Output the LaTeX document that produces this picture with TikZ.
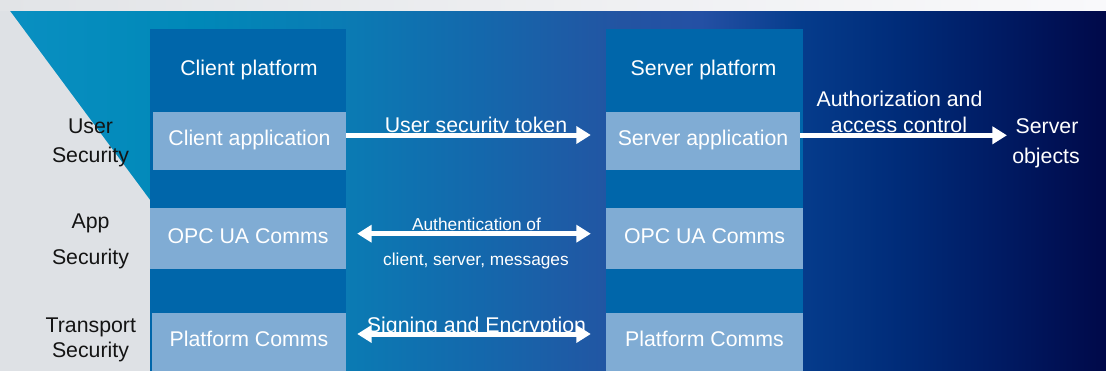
\documentclass[tikz,border=0pt]{standalone}
\usepackage{fontspec}
\setmainfont{Liberation Sans}
\usetikzlibrary{arrows.meta}
\definecolor{b0}{HTML}{0A90C2}
\definecolor{b1}{HTML}{0088B8}
\definecolor{b2}{HTML}{0A7CB4}
\definecolor{b3}{HTML}{1468AC}
\definecolor{b4}{HTML}{2354A2}
\definecolor{b5}{HTML}{2450A4}
\definecolor{b6}{HTML}{053C8C}
\definecolor{b7}{HTML}{002B78}
\definecolor{b8}{HTML}{001A62}
\definecolor{b9}{HTML}{000848}
\definecolor{colblue}{HTML}{0066AA}
\definecolor{lightbox}{HTML}{80ACD4}
\definecolor{grayL}{HTML}{E2E4E7}
\definecolor{grayR}{HTML}{F9F9FB}
\definecolor{sidegray}{HTML}{DEE1E5}
\pgfdeclarehorizontalshading{bgblue}{100bp}{color(0bp)=(b0); color(25bp)=(b0); color(34.04bp)=(b1); color(40.37bp)=(b2); color(46.70bp)=(b3); color(53.03bp)=(b4); color(56.65bp)=(b5); color(61.17bp)=(b6); color(65.69bp)=(b7); color(70.21bp)=(b8); color(75bp)=(b9); color(100bp)=(b9)}
\newcommand{\bigfont}{\fontsize{21.3}{25}\selectfont}
\newcommand{\smallfont}{\fontsize{17.3}{20}\selectfont}
\tikzset{
  box/.style={fill=lightbox, text=white, inner sep=0pt, font=\bigfont, text height=15.3pt},
  wlab/.style={text=white, inner sep=0pt, anchor=base, font=\bigfont},
  slab/.style={text=white, inner sep=0pt, anchor=base, font=\smallfont},
  klab/.style={text=black!92, inner sep=0pt, anchor=base, font=\bigfont},
  arr/.style={white, line width=5pt, -{Triangle[length=14.5pt,width=17pt]}},
  darr/.style={white, line width=5pt, {Triangle[length=14.5pt,width=17pt]}-{Triangle[length=14.5pt,width=17pt]}}
}
\begin{document}
\begin{tikzpicture}[x=1pt,y=-1pt]
\useasboundingbox (0,0) rectangle (1106,370);
% background (bleeding past the page edges)
\shade[left color=grayL, right color=grayR] (-4,-4) rectangle (1110,11);
\shade[shading=bgblue] (-4,11) rectangle (1110,376);
\fill[sidegray] (-4,11) -- (10,11) -- (150,200) -- (150,376) -- (-4,376) -- cycle;
% platform columns
\fill[colblue] (150,29) rectangle (346,376);
\fill[colblue] (606,29) rectangle (803,376);
\node[wlab] (cplat) at (249,75.3) {Client platform};
\node[wlab] (splat) at (703.5,75.3) {Server platform};
% boxes
\node[box, minimum width=193pt, minimum height=58pt, text depth=6.7pt] (capp) at (249.5,141) {Client application};
\node[box, minimum width=196pt, minimum height=61pt, text depth=5.3pt] (copc) at (248,238.5) {OPC UA Comms};
\node[box, minimum width=194pt, minimum height=63pt, text depth=11.1pt] (cplc) at (249,344.5) {Platform Comms};
\node[box, minimum width=194pt, minimum height=58pt, text depth=6.7pt] (sapp) at (703,141) {Server application};
\node[box, minimum width=197pt, minimum height=61pt, text depth=5.3pt] (sopc) at (704.5,238.5) {OPC UA Comms};
\node[box, minimum width=197pt, minimum height=63pt, text depth=11.1pt] (splc) at (704.5,344.5) {Platform Comms};
% left labels
\node[klab] (us1) at (90.5,133.3) {User};
\node[klab] (us2) at (90.5,162.3) {Security};
\node[klab] (as1) at (90.5,228) {App};
\node[klab] (as2) at (90.5,264.5) {Security};
\node[klab] (ts1) at (90.8,332) {Transport};
\node[klab] (ts2) at (90.5,357.3) {Security};
% right labels
\node[wlab] (so1) at (1047,133.6) {Server};
\node[wlab] (so2) at (1046,163.5) {objects};
% arrows
\draw[arr, shorten >=15pt] ([yshift=6pt]capp.east) -- ([yshift=6pt]sapp.west);
\draw[darr, shorten <=11pt, shorten >=15pt] ([yshift=4.8pt]copc.east) -- ([yshift=4.8pt]sopc.west);
\draw[darr, shorten <=11pt, shorten >=15pt] ([yshift=10.5pt]cplc.east) -- ([yshift=10.5pt]splc.west);
\draw[arr, shorten >=8.5pt] ([yshift=5.7pt]sapp.east) -- ([yshift=5.7pt]sapp.east -| so1.west);
% arrow labels
\node[wlab] (tok) at (476,132.7) {User security token};
\node[slab] (au1) at (476.5,230.7) {Authentication of};
\node[slab] (au2) at (476,265) {client, server, messages};
\node[wlab] (sig) at (476.5,332) {Signing and Encryption};
\node[wlab] (az1) at (899.5,106) {Authorization and};
\node[wlab] (az2) at (899,132.5) {access control};
\end{tikzpicture}
\end{document}
